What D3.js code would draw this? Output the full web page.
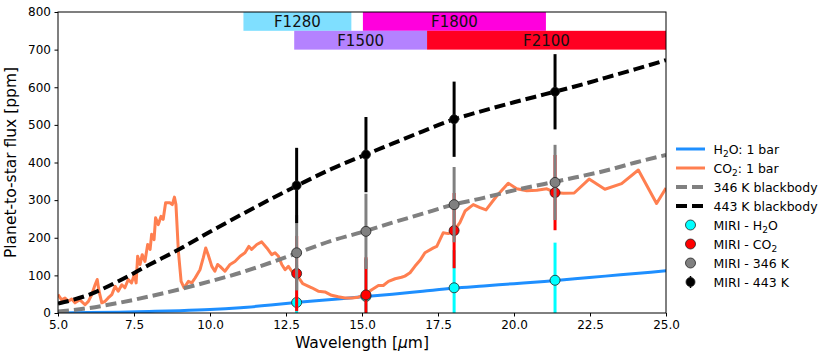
<!DOCTYPE html>
<html>
<head>
<meta charset="utf-8">
<script src="https://cdn.jsdelivr.net/npm/d3@7"></script>
<style>
	body { margin: 0; background: #fff; }
	text { font-family: "DejaVu Sans", sans-serif; }
</style>
</head>
<body>
<svg id="svg_main" width="831" height="359"></svg>
<script>
// model spectra
var modelWave = [5, 6, 7, 8, 9, 10, 11, 12, 13, 14, 15, 16, 17, 18, 19, 20, 21, 22, 23, 24, 25];
var h2oFlux = [0, 1, 2, 4, 6, 9, 14, 21, 29, 36, 43, 50, 58, 66, 72, 78, 84, 91, 98, 105, 112];
var bb346 = [4, 13, 27, 44, 63, 84, 107, 134, 163, 192, 215, 240, 264, 288, 306, 326, 343, 360, 378, 400, 420];
var bb443 = [25, 48, 85, 128, 170, 216, 260, 303, 344, 383, 417, 450, 483, 514, 538, 560, 581, 602, 625, 648, 672];

var co2Wave = [5.0, 5.12, 5.23, 5.34, 5.45, 5.56, 5.72, 5.89, 6.0, 6.11, 6.22, 6.29, 6.35, 6.44, 6.55, 6.65,
	6.77, 6.88, 6.98, 7.1, 7.2, 7.31, 7.42, 7.51, 7.57, 7.62, 7.7, 7.77, 7.86, 7.95, 8.03, 8.08, 8.16, 8.21,
	8.3, 8.39, 8.46, 8.54, 8.68, 8.76, 8.83, 8.88, 8.96, 9.05, 9.15, 9.29, 9.4, 9.51, 9.67, 9.78, 9.86, 9.94,
	10.06, 10.16, 10.25, 10.33, 10.49, 10.66, 10.82, 10.99, 11.15, 11.28, 11.37, 11.54, 11.7, 11.87, 12.03,
	12.14, 12.25, 12.36, 12.47, 12.58, 12.69, 12.85, 13.05, 13.35, 13.56, 13.78, 14.0, 14.22, 14.44, 14.66,
	14.88, 15.1, 15.32, 15.54, 15.7, 15.87, 16.09, 16.3, 16.41, 16.58, 16.74, 16.91, 17.07, 17.35, 17.46,
	17.67, 17.84, 18.04, 18.22, 18.39, 18.66, 18.88, 19.08, 19.43, 19.81, 20.09, 20.42, 20.75, 21.08, 21.36,
	21.62, 21.98, 22.47, 22.99, 23.54, 24.09, 24.69, 25.0];
var co2Flux = [49, 35, 40, 31, 37, 27, 35, 22, 31, 49, 75, 89, 58, 27, 31, 40,
	49, 71, 58, 75, 67, 89, 80, 102, 80, 151, 129, 155, 137, 182, 169, 209, 195, 253,
	235, 257, 249, 293, 293, 288, 308, 288, 164, 84, 67, 84, 80, 93, 115, 147, 173, 155,
	124, 111, 129, 124, 111, 129, 137, 151, 160, 177, 169, 182, 189, 173, 155,
	160, 151, 129, 115, 124, 111, 102, 78, 67, 58, 56, 47, 43, 40, 40,
	42, 49, 62, 73, 73, 84, 91, 95, 98, 107, 124, 140, 160, 173, 177,
	213, 211, 220, 240, 271, 288, 280, 274, 311, 345, 330, 325, 326, 330, 320,
	318, 319, 356, 329, 344, 380, 291, 332];

// simulated MIRI photometry
var miriWave = [12.85, 15.13, 18.03, 21.35];
var miriH2O = [28, 44, 67, 87];
var miriCO2 = [105, 48, 219, 320];
var miri346 = [160, 217, 288, 347];
var miri443 = [339, 421, 515, 588];
var miriErr = [100, 100, 100, 100];

// filter bands (name, start, end, row)
var filterNames = ["F1280", "F1800", "F1500", "F2100"];
var filterStart = [11.1, 15.03, 12.77, 17.14];
var filterEnd = [14.65, 21.05, 17.14, 25.0];
var filterRow = [0, 0, 1, 1];
var filterColor = ["#7fdfff", "#ff00dd", "#b482ff", "#ff0022"];

var xTicks = [5, 7.5, 10, 12.5, 15, 17.5, 20, 22.5, 25];
var yTicks = [0, 100, 200, 300, 400, 500, 600, 700, 800];

var margin = { top: 12, left: 58, right: 165, bottom: 46 };

function main() {
	var svg = d3.select("#svg_main");
	var width = 831 - margin.left - margin.right,
		height = 359 - margin.top - margin.bottom;

	var x = d3.scaleLinear().domain([5, 25]).range([0, width]),
		y = d3.scaleLinear().domain([0, 800]).range([height, 0]);

	var g = svg.append("g")
		.attr("transform", `translate(${margin.left}, ${margin.top})`);

	g.append("clipPath").attr("id", "plotclip")
		.append("rect").attr("width", width).attr("height", height);

	var plot = g.append("g").attr("clip-path", "url(#plotclip)");

	var line = d3.line()
		.x(d => x(d[0]))
		.y(d => y(d[1]));
	var smooth = d3.line()
		.x(d => x(d[0]))
		.y(d => y(d[1]))
		.curve(d3.curveMonotoneX);

	plot.append("path")
		.datum(d3.zip(modelWave, h2oFlux))
		.attr("d", smooth)
		.attr("fill", "none").attr("stroke", "#1e8fff").attr("stroke-width", 3);
	plot.append("path")
		.datum(d3.zip(co2Wave, co2Flux))
		.attr("d", line)
		.attr("fill", "none").attr("stroke", "#ff7f50").attr("stroke-width", 3)
		.attr("stroke-linejoin", "round");
	plot.append("path")
		.datum(d3.zip(modelWave, bb346))
		.attr("d", smooth)
		.attr("fill", "none").attr("stroke", "#808080").attr("stroke-width", 4)
		.attr("stroke-dasharray", "11,5");
	plot.append("path")
		.datum(d3.zip(modelWave, bb443))
		.attr("d", smooth)
		.attr("fill", "none").attr("stroke", "#000").attr("stroke-width", 4)
		.attr("stroke-dasharray", "11,5");

	// error bars + markers, one set after another
	var sets = [
		{ vals: miriH2O, color: "#00ffff", r: 5 },
		{ vals: miriCO2, color: "#ff0000", r: 5 },
		{ vals: miri346, color: "#808080", r: 5 },
		{ vals: miri443, color: "#000000", r: 4.5 }
	];
	for (let s of sets) {
		let pts = d3.zip(miriWave, s.vals, miriErr);
		let eg = plot.append("g");
		eg.selectAll("line")
			.data(pts)
			.enter().append("line")
			.attr("x1", d => x(d[0])).attr("x2", d => x(d[0]))
			.attr("y1", d => y(d[1] - d[2])).attr("y2", d => y(d[1] + d[2]))
			.attr("stroke", s.color).attr("stroke-width", 3);
		eg.selectAll("circle")
			.data(pts)
			.enter().append("circle")
			.attr("cx", d => x(d[0])).attr("cy", d => y(d[1]))
			.attr("r", s.r)
			.attr("fill", s.color)
			.attr("stroke", "#222").attr("stroke-width", 0.8);
	}

	// filter boxes
	var fb = plot.append("g");
	filterNames.forEach((name, i) => {
		let top = 800 - 50 * filterRow[i];
		fb.append("rect")
			.attr("x", x(filterStart[i]))
			.attr("y", y(top))
			.attr("width", x(filterEnd[i]) - x(filterStart[i]))
			.attr("height", y(top - 50) - y(top))
			.attr("fill", filterColor[i]);
		fb.append("text")
			.attr("x", (x(filterStart[i]) + x(filterEnd[i])) / 2)
			.attr("y", (y(top) + y(top - 50)) / 2)
			.attr("dy", "0.36em")
			.attr("text-anchor", "middle")
			.attr("font-size", "15px")
			.attr("fill", "#111")
			.text(name);
	});

	// axes
	var xAxis = d3.axisBottom(x).tickValues(xTicks).tickFormat(d3.format(".1f")).tickSizeOuter(0).tickSize(3.5).tickPadding(3.5),
		yAxis = d3.axisLeft(y).tickValues(yTicks).tickSizeOuter(0).tickSize(3.5).tickPadding(3.5);

	g.append("g")
		.attr("class", "xAxis")
		.attr("transform", `translate(0, ${height})`)
		.call(xAxis);
	g.append("g")
		.attr("class", "yAxis")
		.call(yAxis);
	g.selectAll(".xAxis .domain, .yAxis .domain").remove();
	g.selectAll(".tick text")
		.attr("font-family", "DejaVu Sans")
		.attr("font-size", "12px")
		.attr("fill", "#000");
	g.selectAll(".tick line").attr("stroke", "#000");

	g.append("rect")
		.attr("width", width).attr("height", height)
		.attr("fill", "none").attr("stroke", "#000").attr("stroke-width", 1);

	// axis labels
	g.append("text")
		.attr("transform", `translate(${-42}, ${height / 2}) rotate(-90)`)
		.attr("text-anchor", "middle")
		.attr("font-size", "15.5px")
		.text("Planet-to-star flux [ppm]");
	var xl = g.append("text")
		.attr("x", width / 2)
		.attr("y", height + 35)
		.attr("text-anchor", "middle")
		.attr("font-size", "15.5px");
	xl.append("tspan").text("Wavelength [");
	xl.append("tspan").attr("font-style", "italic").text("μ");
	xl.append("tspan").text("m]");

	// legend
	var lg = svg.append("g").attr("transform", "translate(676, 149)");
	var rowH = 19;
	var legendLines = [
		{ color: "#1e8fff", w: 3, dash: null, label: ["H", "2", "O: 1 bar"] },
		{ color: "#ff7f50", w: 3, dash: null, label: ["CO", "2", ": 1 bar"] },
		{ color: "#808080", w: 4, dash: "11,5", label: ["346 K blackbody"] },
		{ color: "#000", w: 4, dash: "11,5", label: ["443 K blackbody"] }
	];
	var legendPts = [
		{ color: "#00ffff", r: 5, label: ["MIRI - H", "2", "O"] },
		{ color: "#ff0000", r: 5, label: ["MIRI - CO", "2", ""] },
		{ color: "#808080", r: 5, label: ["MIRI - 346 K"] },
		{ color: "#000000", r: 4.5, label: ["MIRI - 443 K"] }
	];

	function addLabel(sel, parts, yy) {
		let t = sel.append("text")
			.attr("x", 37.5).attr("y", yy).attr("dy", "0.36em")
			.attr("font-size", "12.5px");
		t.append("tspan").text(parts[0]);
		if (parts.length > 1) {
			t.append("tspan").attr("font-size", "9px").attr("dy", "3").text(parts[1]);
			t.append("tspan").attr("dy", "-3").text(parts[2]);
		}
	}

	legendLines.forEach((d, i) => {
		let yy = i * rowH;
		lg.append("line")
			.attr("x1", 0).attr("x2", 29).attr("y1", yy).attr("y2", yy)
			.attr("stroke", d.color).attr("stroke-width", d.w)
			.attr("stroke-dasharray", d.dash);
		addLabel(lg, d.label, yy);
	});
	legendPts.forEach((d, i) => {
		let yy = (i + 4) * rowH;
		if (i == 3)
			lg.append("line")
				.attr("x1", 14.5).attr("x2", 14.5).attr("y1", yy - 6).attr("y2", yy + 6)
				.attr("stroke", "#000").attr("stroke-width", 1.5);
		lg.append("circle")
			.attr("cx", 14.5).attr("cy", yy).attr("r", d.r)
			.attr("fill", d.color).attr("stroke", "#222").attr("stroke-width", 0.8);
		addLabel(lg, d.label, yy);
	});
}

main();
</script>
</body>
</html>
